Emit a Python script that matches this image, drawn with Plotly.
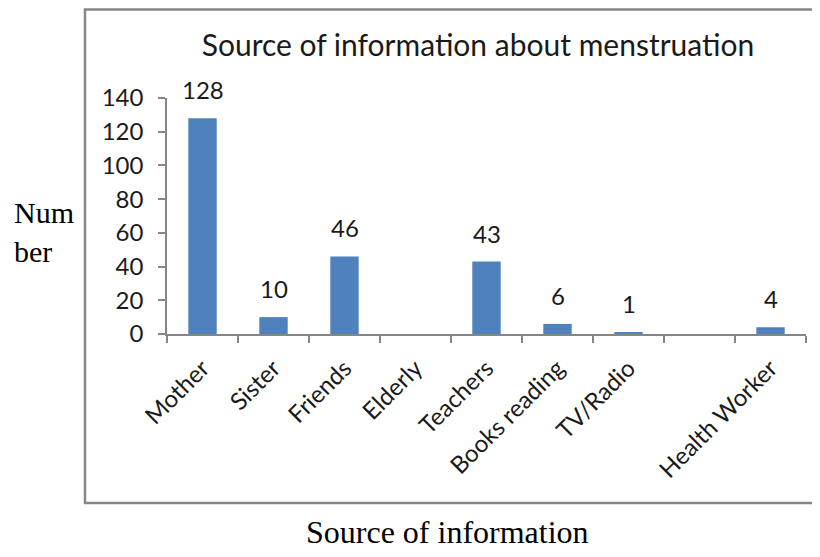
import plotly.graph_objects as go

# data
categories = ["Mother", "Sister", "Friends", "Elderly", "Teachers",
              "Books reading", "TV/Radio", " ", "Health Worker"]
counts = [128, 10, 46, None, 43, 6, 1, None, 4]
y_ticks = [0, 20, 40, 60, 80, 100, 120, 140]

BAR_COLOR = '#4F81BD'
AXIS_COLOR = '#868686'
TEXT_COLOR = '#1a1a1a'
SANS = 'Lato, Open Sans, sans-serif'
SERIF = 'Liberation Serif, Times New Roman, serif'

W, H = 820, 557
OFF = 8  # page body margin, positions below are in screen pixels
L, T = 167 - OFF, 98 - OFF
R = W - (806 - OFF)
B = H - (334 - OFF)
pw, ph = W - L - R, H - T - B


def px_x(x):
    return (x - OFF - L) / pw


def px_y(y):
    return (H - B - (y - OFF)) / ph


fig = go.Figure()
fig.add_trace(go.Bar(x=categories, y=counts, marker_color=BAR_COLOR,
                     marker_line_width=0, width=0.4))

# data labels above the bars
for c, v in zip(categories, counts):
    if v is None:
        continue
    fig.add_annotation(x=c, y=v, text=str(v), showarrow=False, yanchor='bottom',
                       yshift=12, font=dict(family=SANS, size=24, color=TEXT_COLOR))

fig.add_annotation(xref='paper', yref='paper', x=px_x(447), y=px_y(532), text='Source of information',
                   showarrow=False, xanchor='center', yanchor='middle',
                   font=dict(family=SERIF, size=32, color='black'))
fig.add_annotation(xref='paper', yref='paper', x=px_x(12), y=px_y(232), text='Num<br>ber',
                   showarrow=False, xanchor='left', yanchor='middle', align='left',
                   font=dict(family=SERIF, size=30, color='black'))

# outer frame (top edge kept just inside the drawing)
fig.add_shape(type='rect', xref='paper', yref='paper', x0=px_x(85), x1=px_x(840),
              y0=px_y(503), y1=px_y(9.5), line=dict(color=AXIS_COLOR, width=2.5))

fig.update_layout(width=W, height=H, paper_bgcolor='white', plot_bgcolor='white',
                  margin=dict(l=L, r=R, t=T, b=B), showlegend=False,
                  title=dict(text='Source of information about menstruation', x=(478 - OFF) / W,
                             xanchor='center', y=1 - (45 - OFF) / H, yanchor='middle',
                             font=dict(family=SANS, size=30, color=TEXT_COLOR)),
                  font=dict(family=SANS, color=TEXT_COLOR))
fig.update_xaxes(type='category', tickangle=-45, tickson='boundaries', ticks='outside', ticklen=7,
                 tickcolor=AXIS_COLOR, tickwidth=1.5, showline=True, linecolor=AXIS_COLOR, linewidth=1.5,
                 showgrid=False, tickfont=dict(family=SANS, size=24, color=TEXT_COLOR),
                 ticklabelstandoff=9, automargin=False)
fig.update_yaxes(range=[0, 140], tickvals=y_ticks, ticks='outside', ticklen=7, tickcolor=AXIS_COLOR,
                 tickwidth=1.5, showline=True, linecolor=AXIS_COLOR, linewidth=1.5, showgrid=False,
                 zeroline=False, tickfont=dict(family=SANS, size=24, color=TEXT_COLOR),
                 ticklabelstandoff=10, automargin=False)

fig.write_html("out.html")
